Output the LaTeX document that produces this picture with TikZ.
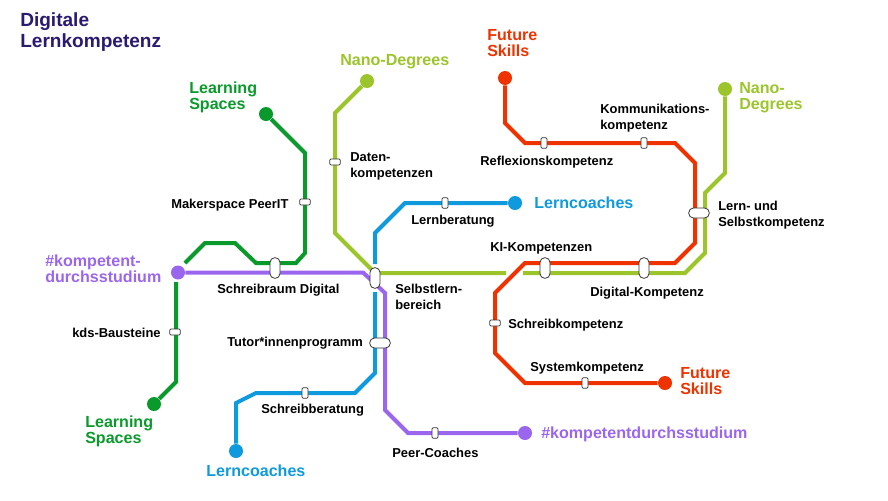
\documentclass[tikz,border=0pt]{standalone}
\usepackage{fontspec}
\setmainfont{Liberation Sans}
\definecolor{linegreen}{HTML}{0A9A2C}
\definecolor{linepurple}{HTML}{9B66EE}
\definecolor{linelime}{HTML}{9CC52B}
\definecolor{lineblue}{HTML}{0F9ADE}
\definecolor{linered}{HTML}{EE3300}
\definecolor{titleblue}{HTML}{2A1A70}
\newcommand{\topfix}{\rule{0pt}{8.4pt}}
\newcommand{\botfix}{\rule[-3.6pt]{0pt}{3.6pt}}
\tikzset{
  metro/.style={line width=3pt,line join=miter},
  stop/.style={circle,minimum size=10.5pt,inner sep=0pt},
  halt/.style={draw=black!80,fill=white,line width=.6pt,rounded corners=.8pt,inner sep=0pt},
  halth/.style={halt,minimum width=7.8pt,minimum height=4.5pt},
  haltv/.style={halt,minimum width=4.5pt,minimum height=7.8pt},
  hub/.style={draw=black!80,fill=white,line width=.6pt,rounded corners=3.6pt,inner sep=0pt},
  hubv/.style={hub,minimum width=7.5pt,minimum height=15.5pt},
  hubh/.style={hub,minimum width=15.5pt,minimum height=7.5pt},
  lbl/.style={anchor=west,align=left,inner sep=0pt,font=\fontsize{9.7}{12}\selectfont\bfseries},
  big/.style={anchor=west,align=left,inner sep=0pt,font=\fontsize{12.05}{12}\selectfont\bfseries},
}
\begin{document}
\begin{tikzpicture}[x=.75pt,y=-.75pt]
  \useasboundingbox (0,0) rectangle (888,500);
  %%%%%%%%%%%%%%%%% bends %%%%%%%%%%%%%%%%%%%
  \foreach \name/\pos in {g1/{305,153},g2/{305,253},g3/{296,263},g4/{256,263},g5/{235,243},g6/{205,243},g7/{185,263},
      k1/{176,282},k2/{176,382},
      p1/{363,272.5},p2/{385,293},p3/{385,410},p4/{408,433},
      l1/{335,113},l2/{335,233},l3/{375,273},l4/{506,273},l5/{523,273},l6/{685,273},l7/{705,253},l8/{705,193},l9/{725,173},
      b1/{405,203},b2/{375,233},b3/{375,264},b4/{375,292},b5/{375,373},b6/{355,393},b7/{256,393},b8/{236,403},
      r1/{505,123},r2/{525,143},r3/{675,143},r4/{695,163},r5/{695,243},r6/{675,263},r7/{525,263},r8/{495,293},r9/{495,353},r10/{525,383}}
    {\coordinate (\name) at (\pos);}

  %%%%%%%%%%%%%%%%% end stops %%%%%%%%%%%%%%%%%%%
  \node[stop,fill=linegreen]  (gtop) at (266,114) {};
  \node[stop,fill=linegreen]  (gbot) at (154,404) {};
  \node[stop,fill=linepurple] (pwest) at (178,272.5) {};
  \node[stop,fill=linepurple] (peast) at (525,433) {};
  \node[stop,fill=linelime]   (ltop) at (367,81) {};
  \node[stop,fill=linelime]   (lright) at (725,89) {};
  \node[stop,fill=lineblue]   (btop) at (515,203) {};
  \node[stop,fill=lineblue]   (bbot) at (236,451) {};
  \node[stop,fill=linered]    (rtop) at (505,78) {};
  \node[stop,fill=linered]    (rbot) at (665,383) {};

  %%%%%%%%%%%%%%%%% lines %%%%%%%%%%%%%%%%%%%%%%%
  \draw[metro,linelime] (ltop) -- (l1) -- (l2) -- (l3) -- (l4);
  \draw[metro,linelime] (l5) -- (l6) -- (l7) -- (l8) -- (l9) -- (lright);
  \draw[metro,linegreen] (gtop) -- (g1) -- (g2) -- (g3) -- (g4) -- (g5) -- (g6) -- (g7);
  \draw[metro,linegreen] (k1) -- (k2) -- (gbot);
  \draw[metro,lineblue] (btop) -- (b1) -- (b2) -- (b3);
  \draw[metro,lineblue] (b4) -- (b5) -- (b6) -- (b7) -- (b8) -- (bbot);
  \draw[metro,linepurple] (pwest) -- (p1) -- (p2) -- (p3) -- (p4) -- (peast);
  \draw[metro,linered] (rtop) -- (r1) -- (r2) -- (r3) -- (r4) -- (r5) -- (r6) -- (r7) -- (r8) -- (r9) -- (r10) -- (rbot);

  %%%%%%%%%%%%%%%%% halts %%%%%%%%%%%%%%%%%%%%%%%
  \foreach \name/\pos in {maker/{305,202},daten/{335,162},kds/{175,332},schreibk/{495,323}}
    {\node[halth] (\name) at (\pos) {};}
  \foreach \name/\pos in {reflex/{544,143},komm/{644,143},beratung/{445,203},schreibb/{305,393},peer/{435,433},system/{585,383}}
    {\node[haltv] (\name) at (\pos) {};}
  \foreach \name/\pos in {raum/{275,268},selbst/{375,278},ki/{545,268},digital/{644,268}}
    {\node[hubv] (\name) at (\pos) {};}
  \foreach \name/\pos in {tutor/{380,343},lern/{699,213}}
    {\node[hubh] (\name) at (\pos) {};}

  %%%%%%%%%%%%%%%%% labels %%%%%%%%%%%%%%%%%%%%%%%
  % fixed height and depth, so the y below does not depend on descenders
  \foreach \name/\pos/\label in {
      tmaker/{171,205.7}/Makerspace PeerIT,
      tdaten/{350,166.7}/{Daten-\\kompetenzen},
      tkomm/{600,118.7}/{Kommunikations-\\kompetenz},
      treflex/{480,162.7}/Reflexionskompetenz,
      tberatung/{411,221.7}/Lernberatung,
      tlern/{718,215.7}/{Lern- und\\Selbstkompetenz},
      tki/{490,248.7}/KI-Kompetenzen,
      traum/{217,290.7}/Schreibraum Digital,
      tdigital/{590,293.7}/Digital-Kompetenz,
      tselbst/{395,298.7}/{Selbstlern-\\bereich},
      tschreibk/{508,325.7}/Schreibkompetenz,
      tkds/{72,334.7}/kds-Bausteine,
      ttutor/{227,343.7}/Tutor*innenprogramm,
      tsystem/{530,368.7}/Systemkompetenz,
      tschreibb/{261,410.7}/Schreibberatung,
      tpeer/{392,454.7}/Peer-Coaches}
    {\node[lbl] (\name) at (\pos) {\topfix\label\botfix};}

  \foreach \name/\pos/\col/\label in {
      tgtop/{189,98.5}/linegreen/{Learning\\Spaces},
      tgbot/{85,432.5}/linegreen/{Learning\\Spaces},
      tltop/{340,62}/linelime/Nano-Degrees,
      tlright/{739,98}/linelime/{Nano-\\Degrees},
      trtop/{487,45}/linered/{Future\\Skills},
      trbot/{680,383}/linered/{Future\\Skills},
      tbtop/{534,205}/lineblue/Lerncoaches,
      tbbot/{206,473}/lineblue/Lerncoaches,
      tpwest/{45,271}/linepurple/{\#kompetent-\\durchsstudium},
      tpeast/{541,435}/linepurple/\#kompetentdurchsstudium}
    {\node[big,text=\col] (\name) at (\pos) {\topfix\label\botfix};}

  \node[anchor=west,align=left,inner sep=0pt,text=titleblue,
    font=\fontsize{14.3}{14.3}\selectfont\bfseries] (title) at (20,32.9) {\strut Digitale\\Lernkompetenz\strut};
\end{tikzpicture}
\end{document}
